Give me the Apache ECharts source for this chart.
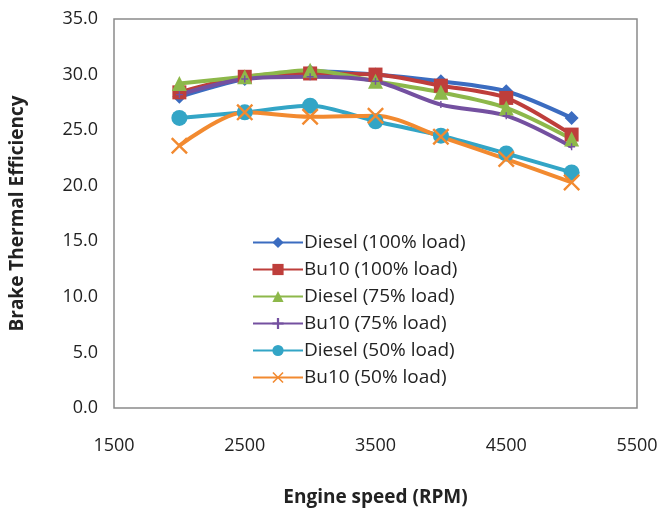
<!DOCTYPE html>
<html>
<head>
<meta charset="utf-8">
<style>
    html, body { margin: 0; padding: 0; background: #fff; }
    #chart { width: 663px; height: 512px; }
</style>
<script src="https://cdn.jsdelivr.net/npm/echarts@6/dist/echarts.min.js"></script>
</head>
<body>
<div id="chart"></div>
<script>
// engine speed (RPM)
const speeds = [2000, 2500, 3000, 3500, 4000, 4500, 5000];
const seriesNames = ['Diesel (100% load)', 'Bu10 (100% load)', 'Diesel (75% load)', 'Bu10 (75% load)', 'Diesel (50% load)', 'Bu10 (50% load)'];
// brake thermal efficiency
const diesel100 = [28.0, 29.6, 30.3, 30.0, 29.4, 28.5, 26.1];
const bu10_100 = [28.4, 29.8, 30.1, 30.0, 29.0, 27.9, 24.6];
const diesel75 = [29.2, 29.8, 30.4, 29.4, 28.4, 27.0, 24.2];
const bu10_75 = [28.2, 29.6, 29.8, 29.4, 27.3, 26.3, 23.5];
const diesel50 = [26.1, 26.6, 27.2, 25.8, 24.5, 22.9, 21.2];
const bu10_50 = [23.6, 26.6, 26.2, 26.3, 24.4, 22.4, 20.3];
const yTicks = [0, 5, 10, 15, 20, 25, 30, 35];

const xMark = 'path://M0,2 L2,0 L10,8 L18,0 L20,2 L12,10 L20,18 L18,20 L10,12 L2,20 L0,18 L8,10 Z';
const plusMark = 'path://M0,8 L8,8 L8,0 L12,0 L12,8 L20,8 L20,12 L12,12 L12,20 L8,20 L8,12 L0,12 Z';

const colors = ['#3B6CC0', '#BE3E3B', '#8DB84A', '#7450A0', '#33A5C6', '#F28A30'];
const symbols = ['diamond', 'rect', 'triangle', plusMark, 'circle', xMark];
const sizes = [14, 14, 15, 7, 16, 17];
const allData = [diesel100, bu10_100, diesel75, bu10_75, diesel50, bu10_50];

const fontFamily = '"Open Sans", "Noto Sans", sans-serif';

let myChart = echarts.init(document.getElementById('chart'));
myChart.setOption({
    animation: false,
    color: colors,
    textStyle: { fontFamily: fontFamily },
    grid: {
        left: 111, right: 26, top: 19, bottom: 99,
        show: true, borderColor: '#8a8a8a', borderWidth: 1.5,
        containLabel: false
    },
    legend: {
        orient: 'vertical',
        left: 247,
        top: 227,
        itemWidth: 50,
        itemHeight: 14,
        itemGap: 6,
        textStyle: { fontSize: 19, lineHeight: 21, color: '#222', fontFamily: fontFamily, padding: [0, 0, 0, -4] },
        data: seriesNames
    },
    xAxis: {
        type: 'value',
        min: 1500, max: 5500, interval: 1000,
        name: 'Engine speed (RPM)',
        nameLocation: 'middle',
        nameGap: 80,
        nameTextStyle: { fontSize: 19, fontWeight: 'bold', color: '#222' },
        axisLine: { show: false },
        axisTick: { show: false },
        splitLine: { show: false },
        axisLabel: { fontSize: 18, color: '#222', margin: 29, formatter: v => String(v) }
    },
    yAxis: {
        type: 'value',
        min: yTicks[0], max: yTicks[yTicks.length - 1], interval: 5,
        name: 'Brake Thermal Efficiency',
        nameLocation: 'middle',
        nameGap: 87,
        nameTextStyle: { fontSize: 19, fontWeight: 'bold', color: '#222' },
        axisLine: { show: false },
        axisTick: { show: false },
        splitLine: { show: false },
        axisLabel: { fontSize: 18, color: '#222', margin: 16, formatter: v => v.toFixed(1) }
    },
    series: seriesNames.map((name, i) => ({
        name: name,
        type: 'line',
        smooth: 0.3,
        symbol: symbols[i],
        symbolSize: sizes[i],
        lineStyle: { width: 4, color: colors[i] },
        itemStyle: { color: colors[i] },
        data: speeds.map((s, j) => [s, allData[i][j]])
    }))
});
</script>
</body>
</html>
